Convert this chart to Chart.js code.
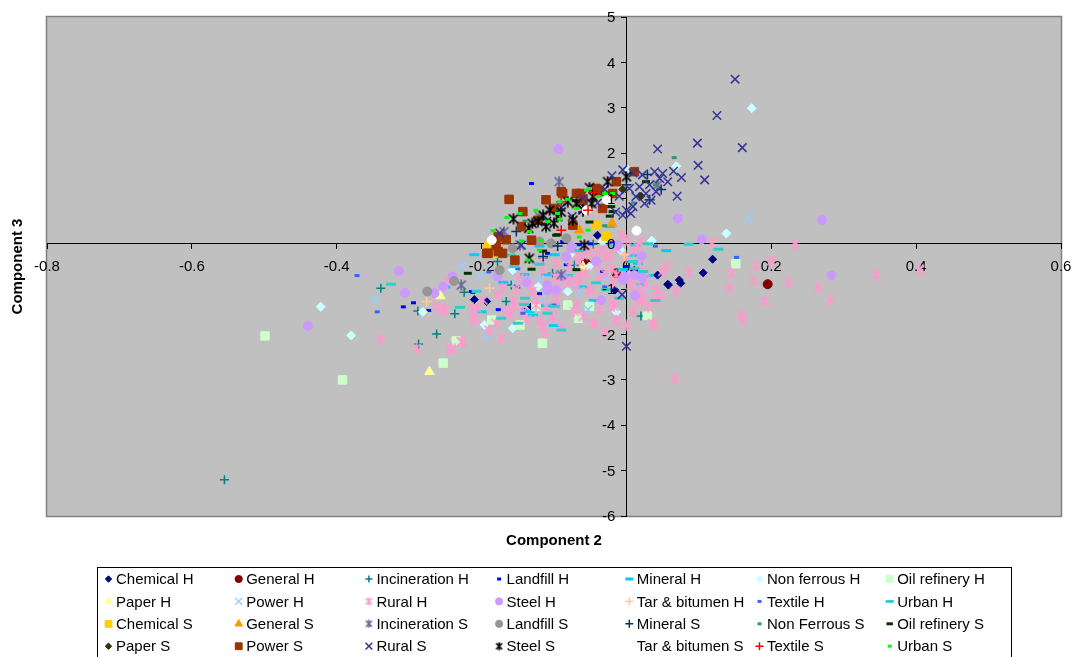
<!DOCTYPE html>
<html>
<head>
<meta charset="utf-8">
<title>Component 2 / Component 3</title>
<script src="https://cdn.jsdelivr.net/npm/chart.js"></script>
<style>
  html, body { margin: 0; padding: 0; background: #fff; }
  .report__chart { position: relative; width: 1073px; height: 657px; }
</style>
</head>
<body>
<div class="report__chart"><canvas id="myChart"></canvas></div>
<script>
// series names, legend order (7 per row)
const seriesNames = [
  'Chemical H', 'General H', 'Incineration H', 'Landfill H', 'Mineral H', 'Non ferrous H', 'Oil refinery H',
  'Paper H', 'Power H', 'Rural H', 'Steel H', 'Tar & bitumen H', 'Textile H', 'Urban H',
  'Chemical S', 'General S', 'Incineration S', 'Landfill S', 'Mineral S', 'Non Ferrous S', 'Oil refinery S',
  'Paper S', 'Power S', 'Rural S', 'Steel S', 'Tar & bitumen S', 'Textile S', 'Urban S'
]

// axis ticks
const xTicks = [-0.8, -0.6, -0.4, -0.2, 0, 0.2, 0.4, 0.6]
const yTicks = [-6, -5, -4, -3, -2, -1, 0, 1, 2, 3, 4, 5]

// [component 2, component 3]
const chemicalH = [[-0.210,-1.23],[-0.193,-1.27],[-0.131,-1.38],[-0.040,0.19],[-0.016,-1.02],[0.011,-0.58],[0.043,-0.69],[0.057,-0.89],[0.058,-0.91],[0.073,-0.80],[0.075,-0.87],[0.106,-0.64],[0.119,-0.34]]
const generalH = [[0.195,-0.89],[-0.056,-0.43],[-0.014,-0.65]]
const incinerationH = [[-0.555,-5.20],[-0.339,-0.98],[-0.288,-1.48],[-0.237,-1.54],[-0.262,-1.99],[-0.287,-2.21],[-0.224,-1.07],[-0.178,-0.39],[-0.159,-0.91],[-0.166,-1.27],[-0.102,-0.65],[-0.072,-0.47],[0.020,-1.59],[-0.046,-0.01],[-0.115,-0.31]]
const landfillH = [[-0.308,-1.39],[-0.294,-1.30],[-0.273,-1.47],[-0.131,1.33],[-0.214,-1.05],[-0.177,-1.45],[-0.083,-0.46],[-0.065,-0.02],[-0.033,-0.61],[0.000,-0.50],[-0.109,-0.21],[-0.212,-1.07],[-0.088,0.05],[-0.150,-0.95],[-0.120,-1.10],[-0.141,-1.45],[-0.020,0.02],[-0.050,0.00]]
const mineralH = [[-0.210,-0.24],[-0.141,-0.68],[-0.111,-1.36],[-0.019,-0.03],[0.009,-0.25],[0.016,-0.43],[-0.129,-1.57],[-0.023,0.38],[0.013,-0.03],[-0.170,-0.85],[-0.060,-0.95],[-0.250,-0.95],[-0.080,-0.70],[0.020,-0.90],[-0.120,-0.05],[0.055,-0.15],[-0.045,-1.25],[-0.200,-1.50],[-0.100,-1.80],[0.030,-0.70],[-0.111,-0.68],[-0.134,-1.49],[-0.005,-0.57],[-0.099,-0.24]]
const nonFerrousH = [[0.173,2.99],[0.069,1.71],[0.138,0.23],[0.035,0.07],[-0.007,-0.15],[-0.422,-1.39],[-0.380,-2.02],[-0.281,-1.50],[-0.157,-0.58],[-0.081,-1.05],[-0.122,-0.94],[-0.196,-1.79],[-0.157,-1.86],[-0.074,-0.21],[-0.014,-1.50],[-0.033,0.05],[0.002,1.63],[-0.051,-0.50]]
const oilRefineryH = [[-0.499,-2.03],[-0.392,-3.00],[-0.253,-2.63],[-0.235,-2.14],[-0.186,-1.68],[-0.147,-1.79],[-0.116,-2.19],[-0.081,-1.35],[-0.066,-1.64],[-0.051,-1.38],[0.029,-1.58],[-0.125,-1.38],[0.151,-0.44]]
const paperH = [[-0.257,-1.15],[-0.272,-2.82],[-0.060,-0.50]]
const powerH = [[0.169,0.56],[-0.347,-1.22],[-0.227,-0.49],[-0.193,-2.03],[-0.065,-1.05],[-0.053,-1.45],[0.025,-1.01],[-0.203,-0.72],[-0.154,-0.86],[-0.033,-0.72],[-0.120,-0.79],[-0.075,-0.85],[-0.118,-1.23],[-0.028,-0.76]]
const ruralH = [
  [0.118,0.03],[0.233,-0.02],[0.179,-0.48],[0.200,-0.38],[0.145,-0.65],[0.086,-0.63],[0.176,-0.81],[0.224,-0.85],[0.142,-0.98],[0.265,-0.96],
  [0.345,-0.68],[0.405,-0.57],[0.281,-1.24],[0.191,-1.27],[0.159,-1.57],[0.161,-1.69],[0.038,-1.80],[0.067,-2.98],[0.041,-1.02],[0.048,-1.13],
  [0.042,-1.24],[0.068,-1.05],[0.016,-1.27],[0.022,-1.16],[0.018,-0.96],[0.055,-0.50],[0.050,-0.61],
  [-0.251,-1.45],[-0.242,-2.30],[-0.228,-2.16],[-0.210,-1.68],[-0.173,-2.08],[-0.157,-1.27],[-0.143,-1.50],[-0.125,-1.35],[-0.120,-1.68],
  [-0.102,-1.61],[-0.097,-1.24],[-0.113,-1.97],[-0.069,-1.35],[-0.046,-1.75],[-0.037,-1.45],[-0.019,-1.31],[-0.014,-1.68],[-0.049,-1.01],
  [-0.030,-0.65],[-0.014,-0.68],[-0.056,-0.65],[-0.069,-0.79],[-0.079,-0.50],[-0.099,-0.72],[-0.116,-0.57],[-0.138,-0.79],[-0.152,-1.01],
  [-0.178,-1.13],[-0.198,-1.24],[-0.212,-1.42],[-0.007,0.19],[0.000,0.09],[-0.033,-0.14],[-0.023,-0.24],[-0.053,-0.17],[-0.065,-0.39],
  [0.036,-1.75],[0.006,-0.91],[0.027,-0.65],[0.018,-0.46],
  [-0.339,-2.10],[-0.290,-2.30],[-0.242,-2.34],[-0.227,-2.16],[-0.263,-1.38],[-0.254,-1.46],[-0.210,-1.64],[-0.207,-1.42],[-0.247,-0.83],
  [-0.060,-0.25],[-0.040,-0.45],[-0.020,-0.55],[0.000,-0.30],[0.010,-0.15],[-0.080,-0.85],[-0.110,-0.95],[-0.130,-1.05],[-0.160,-1.55],
  [-0.180,-1.75],[-0.190,-1.90],[-0.090,-1.85],[-0.060,-1.60],[-0.030,-1.95],[0.000,-1.80],[0.030,-1.40],[0.015,-0.05],[0.020,0.05],
  [-0.116,-0.35],[-0.097,-0.43],[-0.069,-0.24],[-0.042,-0.20],[-0.028,-0.31],[-0.014,-0.09],[-0.063,-0.72],[-0.083,-0.79],[-0.095,-0.90],
  [-0.132,-0.90],[-0.148,-0.76],[-0.125,-1.23],[-0.111,-1.38],[-0.095,-1.05],[-0.069,-0.90],[-0.053,-1.05],[-0.037,-0.76],[-0.019,-0.87],
  [0.004,-0.79],[0.013,-1.12],[0.027,-0.90],[0.009,-1.49],[-0.017,-1.38],[-0.014,-1.71],[-0.044,-1.75],[-0.072,-1.49],[-0.102,-1.60],
  [-0.116,-1.82],[-0.138,-1.67],[-0.155,-1.38],[-0.166,-1.49],[-0.171,-0.98],[0.023,-1.23]
]
const steelH = [[-0.094,2.09],[0.071,0.56],[0.270,0.53],[0.104,0.10],[0.021,-0.27],[0.283,-0.70],[0.022,-0.75],[-0.004,-0.79],[0.012,-1.14],[-0.253,-0.94],[-0.240,-0.72],[-0.178,-0.72],[-0.138,-0.85],[-0.109,-0.91],[-0.097,-1.02],[-0.109,-1.02],[-0.083,-0.28],[-0.076,-0.06],[-0.088,-0.72],[-0.042,-0.39],[-0.012,-0.03],[-0.005,-0.79],[0.020,-0.72],[-0.035,-1.24],[-0.314,-0.60],[-0.306,-1.08],[-0.440,-1.81],[-0.265,-1.09],[-0.076,-0.10],[0.011,-0.69],[-0.003,-0.72]]
const tarBitumenH = [[-0.276,-1.27],[-0.189,-0.98],[-0.003,-0.24]]
const textileH = [[-0.372,-0.70],[-0.344,-1.50],[0.152,-0.30],[-0.150,-0.55],[-0.100,-1.35],[-0.030,-0.95],[0.040,-0.05],[-0.190,-0.62],[-0.143,-1.53]]
const urbanH = [[-0.325,-0.89],[0.086,-0.01],[0.127,-0.12],[0.023,-0.61],[-0.207,-1.05],[-0.042,-0.86],[-0.028,-1.01],[-0.099,-1.38],[-0.173,-1.64],[0.009,-0.39],[-0.120,-0.45],[-0.160,-0.25],[-0.065,-0.15],[0.030,0.00],[-0.090,-1.90],[-0.140,-1.20],[-0.230,-1.40],[0.040,-1.25],[-0.010,-1.20],[-0.150,-1.75],[-0.109,-1.53],[0.011,-0.54],[-0.155,-0.50],[-0.141,-1.34]]
const chemicalS = [[-0.180,-0.21],[-0.042,0.41],[-0.028,0.17],[-0.190,-0.05]]
const generalS = [[-0.065,0.30],[-0.020,0.45]]
const incinerationS = [[-0.093,1.37],[-0.169,0.27],[-0.228,-0.91],[-0.090,-0.68],[-0.147,-0.03],[0.043,1.30],[-0.060,0.95],[-0.120,0.60]]
const landfillS = [[-0.275,-1.05],[-0.238,-0.82],[-0.083,0.12],[-0.104,0.01],[-0.157,-0.10],[-0.175,-0.58],[-0.120,0.05]]
const mineralS = [[-0.152,0.27],[-0.115,-0.28],[0.029,1.53],[0.032,0.97],[0.048,1.20],[-0.060,0.70],[0.000,1.30],[-0.095,-0.05]]
const nonFerrousS = [[0.066,1.90],[-0.020,1.15],[0.040,1.30],[-0.090,0.90],[-0.140,0.50],[0.010,0.90],[-0.060,0.70],[-0.030,0.40]]
const oilRefineryS = [[-0.095,0.20],[-0.115,-0.16],[-0.051,0.48],[-0.019,0.71],[-0.021,0.82],[-0.219,-0.65],[-0.023,0.61],[0.027,1.37],[-0.069,-0.57],[-0.131,-0.56],[-0.097,0.19],[-0.070,0.95]]
const paperS = [[-0.005,1.20],[-0.060,0.90],[0.020,1.05]]
const powerS = [[-0.162,0.98],[-0.191,-0.21],[-0.180,-0.03],[-0.171,-0.21],[-0.154,-0.36],[-0.177,0.16],[-0.143,0.71],[-0.145,0.38],[-0.131,0.08],[-0.122,0.52],[-0.099,0.78],[-0.088,1.11],[-0.074,0.41],[-0.063,1.11],[-0.042,1.22],[-0.033,0.78],[-0.014,1.37],[0.011,1.59],[-0.111,0.97],[-0.090,1.15],[-0.069,1.11],[-0.060,0.97],[-0.037,1.15],[-0.019,1.11],[-0.166,0.09],[-0.177,-0.17],[-0.193,-0.21]]
const ruralS = [
  [0.150,3.63],[0.125,2.83],[0.098,2.22],[0.160,2.12],[0.043,2.09],[0.099,1.73],[0.108,1.41],[0.076,1.46],
  [-0.005,1.63],[0.009,1.56],[0.022,1.52],[0.039,1.59],[0.050,1.55],[0.046,1.44],[0.057,1.37],[0.032,1.30],[0.018,1.26],[0.004,1.22],
  [0.041,1.15],[0.027,1.11],[0.013,1.04],[0.034,0.96],[0.025,0.89],[0.009,0.82],[0.000,0.74],[-0.005,0.63],[0.006,0.67],
  [-0.020,1.50],[-0.030,1.20],[-0.040,0.90],[-0.060,1.00],[-0.075,0.60],[-0.090,0.80],[-0.110,0.50],[-0.010,1.05],[-0.015,0.70],
  [0.070,1.05],[0.065,1.60],[0.000,-2.26],[-0.006,-1.12],[-0.145,-0.03],[-0.175,0.24]
]
const steelS = [[-0.156,0.55],[-0.135,0.34],[-0.122,0.49],[-0.115,0.63],[-0.111,0.38],[-0.106,0.74],[-0.095,0.60],[-0.074,0.52],[-0.069,0.89],[-0.081,0.93],[-0.048,0.89],[-0.046,1.04],[-0.051,1.24],[-0.026,1.37],[0.000,1.48],[-0.058,-0.03],[-0.134,-0.32],[-0.130,0.45],[-0.100,0.45],[-0.090,0.70],[-0.060,0.75]]
const tarBitumenS = [[-0.186,0.08],[-0.027,0.97],[-0.055,0.74],[0.014,0.29]]
const textileS = [[-0.090,0.93],[-0.045,1.13],[-0.090,0.30],[-0.053,0.74]]
const urbanS = [[-0.184,0.29],[-0.165,0.58],[-0.145,0.06],[-0.134,0.27],[-0.125,0.74],[-0.109,0.49],[-0.095,0.67],[-0.092,0.54],[-0.081,0.98],[-0.069,0.78],[-0.053,0.30],[-0.051,1.22],[-0.039,1.04],[-0.118,0.08],[-0.120,-0.14],[-0.030,1.11],[-0.147,0.67],[-0.092,0.93],[-0.055,1.18],[-0.019,1.11],[-0.136,-0.36],[-0.065,0.15]]

const seriesValues = [
  chemicalH, generalH, incinerationH, landfillH, mineralH, nonFerrousH, oilRefineryH,
  paperH, powerH, ruralH, steelH, tarBitumenH, textileH, urbanH,
  chemicalS, generalS, incinerationS, landfillS, mineralS, nonFerrousS, oilRefineryS,
  paperS, powerS, ruralS, steelS, tarBitumenS, textileS, urbanS
]

const FONT = '"Liberation Sans", Arial, sans-serif'

// excel-like star marker: an x with a vertical bar
const asterisk = (color, s) => {
  const c = document.createElement('canvas')
  c.width = s
  c.height = s
  const g = c.getContext('2d')
  const a = 1.5, b = s - 1.5, m = s / 2
  g.strokeStyle = color
  g.lineWidth = 1.7
  g.beginPath()
  g.moveTo(a, a); g.lineTo(b, b)
  g.moveTo(b, a); g.lineTo(a, b)
  g.moveTo(m, 0.5); g.lineTo(m, s - 0.5)
  g.stroke()
  return c
}

// marker style per series: [pointStyle, colour, radius, lineWidth]
const markers = [
  ['rectRot', '#000080', 4, 1], ['circle', '#800000', 4.5, 1], ['cross', '#008080', 4.5, 1.5], ['line', '#0000FF', 2.5, 3],
  ['line', '#00CCFF', 5, 3], ['rectRot', '#CCFFFF', 4.5, 1], ['rect', '#CCFFCC', 6, 1],
  ['triangle', '#FFFF99', 5.5, 1], ['crossRot', '#99CCFF', 6, 1.5], ['star', '#FF99CC', 5, 1.5], ['circle', '#CC99FF', 4.5, 1],
  ['cross', '#FFCC99', 5, 1.5], ['line', '#3366FF', 2.5, 3], ['line', '#33CCCC', 5, 3],
  ['rect', '#FFCC00', 6, 1], ['triangle', '#FF9900', 5.5, 1], ['star', '#666699', 5, 1.5], ['circle', '#969696', 4.5, 1],
  ['cross', '#003366', 5, 1.5], ['line', '#339966', 2.5, 3], ['line', '#003300', 4, 3],
  ['rectRot', '#333300', 4, 1], ['rect', '#993300', 6, 1], ['crossRot', '#333399', 6, 1.5], ['star', '#000000', 5, 1.5],
  ['circle', '#FFFFFF', 4.5, 1], ['cross', '#FF0000', 5, 1.5], ['line', '#00FF00', 2.5, 3]
]

const pointStyleOf = (m, s) => m[0] === 'star' ? asterisk(m[1], s) : m[0]

const drawMarker = (ctx, m, x, y, k) => {
  const style = pointStyleOf(m, 9)
  if (typeof style !== 'string') {
    ctx.drawImage(style, x - style.width / 2, y - style.height / 2)
    return
  }
  ctx.fillStyle = m[1]
  ctx.strokeStyle = m[1]
  ctx.lineWidth = m[3]
  Chart.helpers.drawPoint(ctx, { pointStyle: style, radius: m[2] * k, borderWidth: m[3], rotation: 0 }, x, y)
}

// grey plot area with its frame
const plotFrame = {
  id: 'plotFrame',
  beforeDraw(chart) {
    const { ctx, chartArea: a } = chart
    ctx.save()
    ctx.fillStyle = '#C0C0C0'
    ctx.fillRect(a.left, a.top, a.right - a.left, a.bottom - a.top)
    ctx.strokeStyle = '#808080'
    ctx.lineWidth = 1.5
    ctx.strokeRect(a.left - 0.5, a.top - 0.5, a.right - a.left + 1, a.bottom - a.top + 1)
    ctx.restore()
  }
}

// y labels sit left of the tick marks of the crossing axis, axis titles, boxed 7-column legend
const titlesAndLegend = {
  id: 'titlesAndLegend',
  afterDraw(chart) {
    const { ctx, chartArea: a, scales } = chart
    ctx.save()
    ctx.fillStyle = '#000'
    ctx.font = '15px ' + FONT
    ctx.textAlign = 'right'
    ctx.textBaseline = 'middle'
    const axisX = scales.x.getPixelForValue(0)
    yTicks.forEach(v => {
      ctx.fillText(String(v), axisX - 11, scales.y.getPixelForValue(v) + 1)
    })

    ctx.font = 'bold 15px ' + FONT
    ctx.textAlign = 'center'
    ctx.fillText('Component 2', (a.left + a.right) / 2, 541)
    ctx.save()
    ctx.translate(18, (a.top + a.bottom) / 2)
    ctx.rotate(-Math.PI / 2)
    ctx.fillText('Component 3', 0, 0)
    ctx.restore()

    ctx.strokeStyle = '#000'
    ctx.lineWidth = 1
    ctx.strokeRect(97.5, 567.5, 914, 130)
    ctx.font = '15px ' + FONT
    ctx.textAlign = 'left'
    seriesNames.forEach((name, i) => {
      const col = i % 7
      const row = Math.floor(i / 7)
      const mx = 108.5 + col * 130.2
      const my = 579 + row * 22.4
      drawMarker(ctx, markers[i], mx, my, 0.8)
      ctx.fillStyle = '#000'
      ctx.fillText(name, mx + 7.5, my + 1)
    })
    ctx.restore()
  }
}

const ctx = document.getElementById('myChart').getContext('2d')

const myChart = new Chart(ctx, {
  type: 'scatter',
  data: {
    datasets: seriesNames.map((name, i) => {
      const m = markers[i]
      return {
        label: name,
        data: seriesValues[i],
        order: seriesNames.length - i,
        pointStyle: pointStyleOf(m, 12),
        pointRadius: m[2],
        pointBackgroundColor: m[1],
        pointBorderColor: m[1],
        pointBorderWidth: m[3],
        showLine: false,
      }
    })
  },
  options: {
    responsive: true,
    maintainAspectRatio: false,
    animation: false,
    events: [],
    layout: { padding: { left: 47, top: 17, right: 12, bottom: 141 } },
    scales: {
      x: {
        type: 'linear',
        position: { y: 0 },
        min: xTicks[0],
        max: xTicks[xTicks.length - 1],
        z: 1,
        afterBuildTicks: (axis) => { axis.ticks = xTicks.map(v => ({ value: v })) },
        // labels at the edges must not shrink the plot area
        afterFit: (axis) => { axis.paddingLeft = 0; axis.paddingRight = 0 },
        ticks: {
          color: '#000',
          padding: 9,
          maxRotation: 0,
          autoSkip: false,
          font: { size: 15, family: FONT },
          callback: (v) => String(Math.round(v * 10) / 10),
        },
        grid: { display: true, drawOnChartArea: false, drawTicks: true, tickLength: 5, color: '#000', tickColor: '#000' },
        border: { display: true, color: '#000', width: 1 },
      },
      y: {
        type: 'linear',
        position: { x: 0 },
        min: yTicks[0],
        max: yTicks[yTicks.length - 1],
        z: 1,
        afterBuildTicks: (axis) => { axis.ticks = yTicks.map(v => ({ value: v })) },
        afterFit: (axis) => { axis.paddingTop = 0; axis.paddingBottom = 0 },
        ticks: { display: false },
        grid: { display: true, drawOnChartArea: false, drawTicks: true, tickLength: 5, color: '#000', tickColor: '#000' },
        border: { display: true, color: '#000', width: 1 },
      }
    },
    plugins: {
      legend: { display: false },
      tooltip: { enabled: false },
      title: { display: false },
    }
  },
  plugins: [plotFrame, titlesAndLegend]
})
</script>
</body>
</html>
